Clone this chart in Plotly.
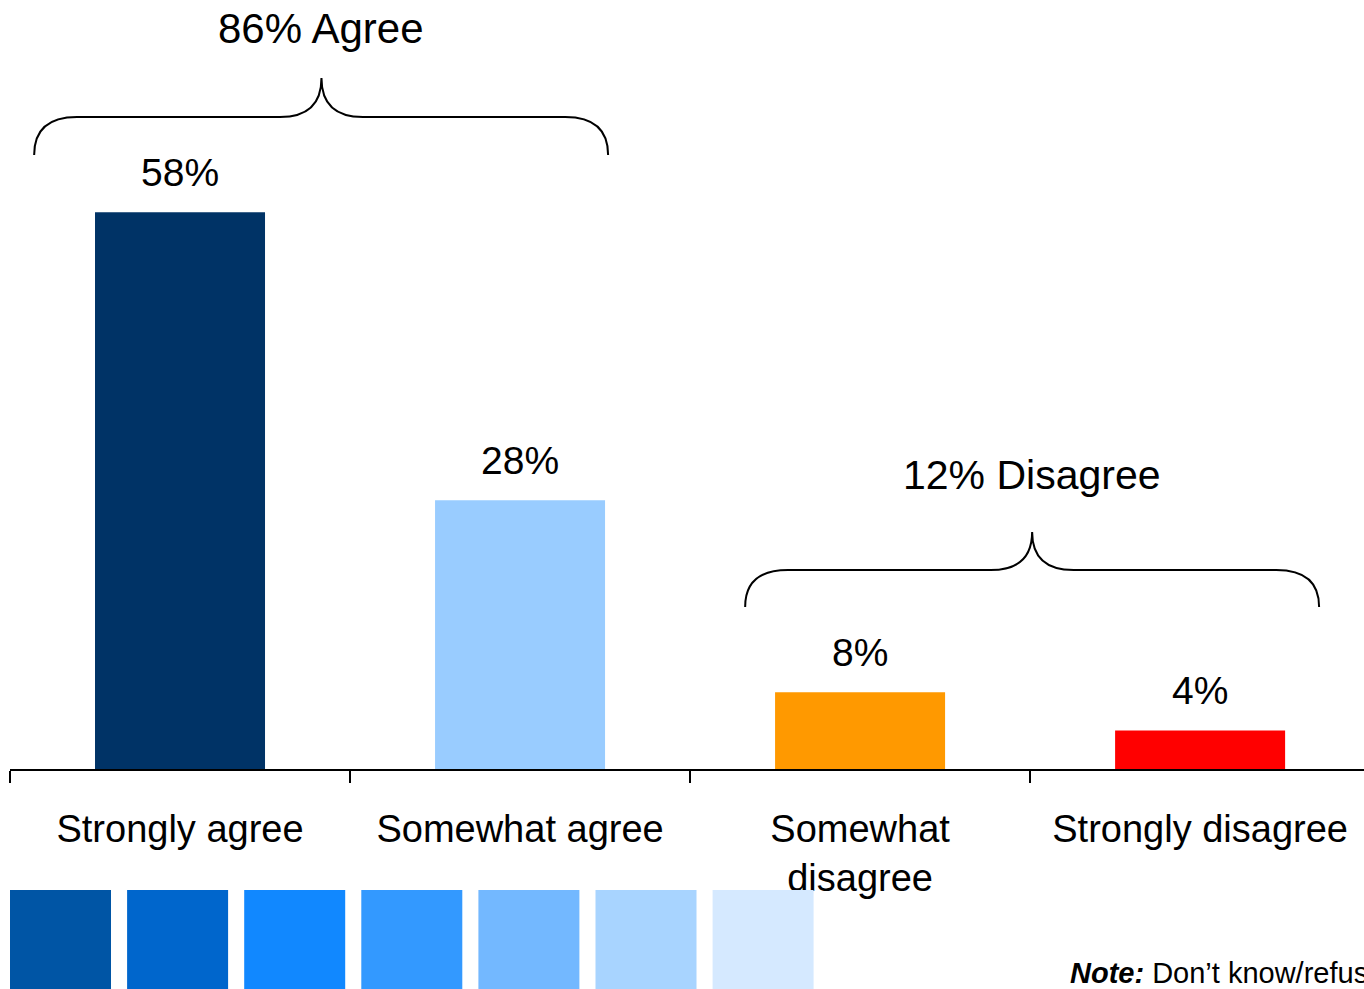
import plotly.graph_objects as go

# ---- data ----
categories = ["Strongly agree", "Somewhat agree", "Somewhat<br>disagree", "Strongly disagree"]
values = [58, 28, 8, 4]
bar_colors = ["#003366", "#99CCFF", "#FF9900", "#FF0000"]
value_labels = ["58%", "28%", "8%", "4%"]

group_titles = ["86% Agree", "12% Disagree"]
swatch_colors = ["#0055A5", "#0066CC", "#1188FF", "#3399FF", "#73B8FF", "#A8D4FF", "#D5E9FF"]
note_text = "<b><i>Note:</i></b> Don’t know/refused responses not shown"

# ---- layout geometry ----
OFF = 0                      # page body margin removed via post_script
W, H = 1364 - OFF, 989 - OFF
AXIS_PX = 769                # y of the category axis in the page
M_L, M_R, M_T = 10 - OFF, 0, 0
M_B = H - (AXIS_PX - OFF)
X_RANGE = [-0.5, 3.482]
PX_PER_UNIT = 9.6
FONT = "Liberation Sans, Arial, Helvetica, sans-serif"

plot_w = W - M_L - M_R
plot_h = H - M_T - M_B
Y_RANGE = [0, plot_h / PX_PER_UNIT]


def xp(u):  # category units -> paper
    return (u - X_RANGE[0]) / (X_RANGE[1] - X_RANGE[0])


def ppx(px):  # page pixel x -> paper
    return (px - OFF - M_L) / plot_w


def ppy(py):  # page pixel y -> paper
    return (AXIS_PX - py) / plot_h


def pdy(py):  # page pixel y -> data y
    return (AXIS_PX - py) / PX_PER_UNIT


fig = go.Figure()
fig.add_trace(go.Bar(
    x=categories, y=values, marker=dict(color=bar_colors, line=dict(width=0)),
    width=0.5, hoverinfo="skip", showlegend=False,
))

annotations = []
for c, v, t in zip(categories, values, value_labels):
    annotations.append(dict(x=c, y=v, xref="x", yref="y", text=t, showarrow=False,
                            yanchor="middle", yshift=40,
                            font=dict(family=FONT, size=39, color="#000000")))

# braces: (x0, x1, xc) in category units; (bottom, horizontal, tip, title) in page px
braces = [
    ((-0.429, 1.259, 0.416), (155, 117, 78, 28), 42),
    ((1.662, 3.350, 2.506), (607, 570, 532, 475), 41),
]
shapes = []
for ((x0, x1, xc), (pb, ph, pt, ptitle), fs), title in zip(braces, group_titles):
    yb, yh, yt = pdy(pb), pdy(ph), pdy(pt)
    span = X_RANGE[1] - X_RANGE[0]
    DC = 0.126 / span
    DT = 0.122 / span
    X0, X1, XC = xp(x0), xp(x1), xp(xc)
    path = (f"M {X0},{yb} Q {X0},{yh} {X0 + DC},{yh} L {XC - DT},{yh} "
            f"Q {XC},{yh} {XC},{yt} Q {XC},{yh} {XC + DT},{yh} "
            f"L {X1 - DC},{yh} Q {X1},{yh} {X1},{yb}")
    shapes.append(dict(type="path", xref="paper", yref="y", path=path,
                       line=dict(color="#000000", width=2)))
    annotations.append(dict(x=XC, y=pdy(ptitle), xref="paper", yref="y", text=title,
                            showarrow=False, xanchor="center", yanchor="middle",
                            font=dict(family=FONT, size=fs, color="#000000")))

# colour swatches along the bottom
for i, col in enumerate(swatch_colors):
    x0 = 10 + i * 117.1
    shapes.append(dict(type="rect", xref="paper", yref="paper",
                       x0=ppx(x0), x1=ppx(x0 + 101), y0=ppy(890), y1=ppy(995),
                       fillcolor=col, line=dict(width=0), layer="above"))

annotations.append(dict(x=ppx(1068), y=ppy(973), xref="paper", yref="paper", text=note_text,
                        showarrow=False, xanchor="left", yanchor="middle",
                        font=dict(family=FONT, size=29, color="#000000")))

fig.update_layout(
    width=W, height=H,
    margin=dict(l=M_L, r=M_R, t=M_T, b=M_B, pad=0),
    paper_bgcolor="#FFFFFF", plot_bgcolor="#FFFFFF",
    font=dict(family=FONT, color="#000000"),
    shapes=shapes, annotations=annotations,
    xaxis=dict(type="category", range=X_RANGE, showline=True, linecolor="#000000", linewidth=2,
               ticks="outside", tickson="boundaries", ticklen=12, tickwidth=2, tickcolor="#000000",
               tickfont=dict(family=FONT, size=38, color="#000000"), ticklabelstandoff=25,
               showgrid=False, zeroline=False, fixedrange=True),
    yaxis=dict(range=Y_RANGE, visible=False, showgrid=False, zeroline=False, fixedrange=True),
)

fig.write_html("out.html", config={"displayModeBar": False},
               post_script="document.body.style.margin='0';document.body.style.overflow='hidden';")
